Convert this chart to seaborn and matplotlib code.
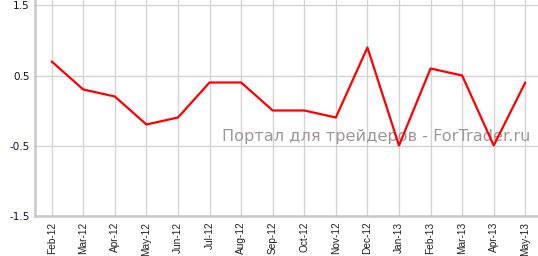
import matplotlib
matplotlib.use("Agg")
import matplotlib.pyplot as plt
import seaborn as sns
import pandas as pd

months = ["Feb-12", "Mar-12", "Apr-12", "May-12", "Jun-12", "Jul-12", "Aug-12",
          "Sep-12", "Oct-12", "Nov-12", "Dec-12", "Jan-13", "Feb-13", "Mar-13",
          "Apr-13", "May-13"]
values = [0.7, 0.3, 0.2, -0.2, -0.1, 0.4, 0.4, 0.0, 0.0, -0.1, 0.9, -0.5,
          0.6, 0.5, -0.5, 0.4]
y_ticks = [-1.5, -0.5, 0.5, 1.5]
y_tick_labels = ["-1.5", "-0.5", "0.5", "1.5"]
watermark = "Портал для трейдеров - ForTrader.ru"

sns.set_style("white")
plt.rcParams['font.family'] = ['DejaVu Sans']

df = pd.DataFrame({"idx": range(len(months)), "month": months, "value": values})

fig = plt.figure(figsize=(5.38, 2.56), dpi=100)
ax = fig.add_axes([35 / 538, 1 - 215.5 / 256, 1 - 35 / 538, 215.5 / 256])

sns.lineplot(data=df, x="idx", y="value", ax=ax, color="#ff0000", linewidth=1.6, zorder=3)

ax.set_xlim(-(51.7 - 35) / 31.57, 15 + (538 - 525.3) / 31.57)
ax.set_ylim(-1.5, 1.5 + 5.5 / 70)
ax.set_xticks(range(len(months)))
ax.set_xticklabels(months, rotation=90, fontsize=7.3, family="Liberation Sans", color="#222222")
ax.set_yticks(y_ticks)
ax.set_yticklabels(y_tick_labels, fontsize=7.5, color="#10102a")
ax.set_xlabel("")
ax.set_ylabel("")

ax.grid(True, color="#d4d4d4", linewidth=1.0)
ax.set_axisbelow(True)
for s in ["top", "right"]:
    ax.spines[s].set_visible(False)
for s in ["left", "bottom"]:
    ax.spines[s].set_color("#c8c8c8")
    ax.spines[s].set_linewidth(1.8)
ax.tick_params(axis="both", length=2.5, width=0.8, color="#c8c8c8", pad=1.5)
ax.tick_params(axis="x", pad=2)

ax.text(222 / 538, 1 - 136 / 256, watermark, fontsize=11.6, color="#a09898",
        ha="left", va="center", transform=fig.transFigure, zorder=2)

fig.savefig("out.png", dpi=100)
